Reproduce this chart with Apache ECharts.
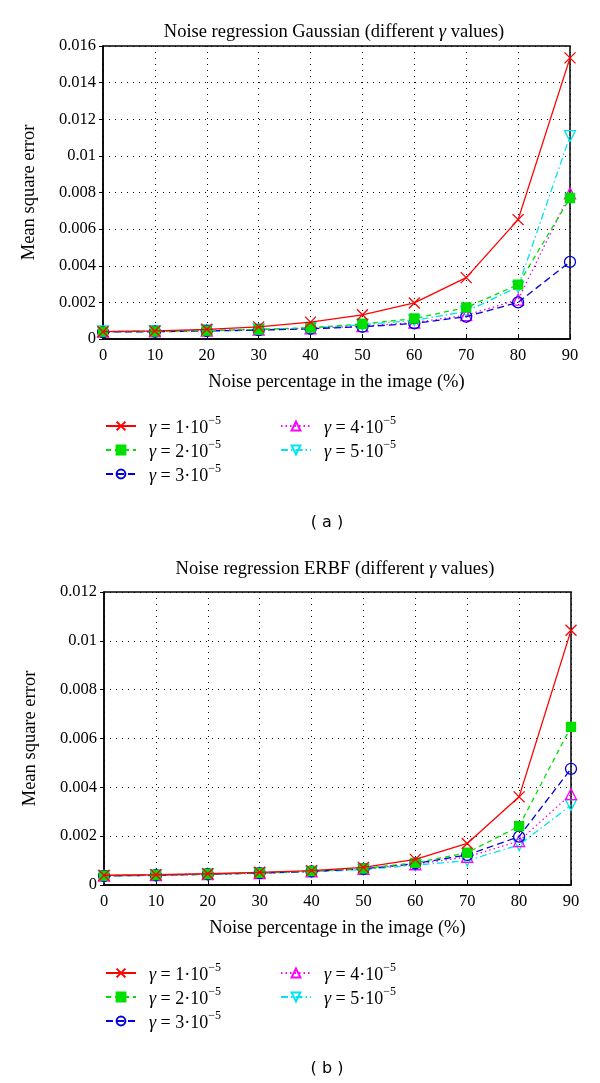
<!DOCTYPE html>
<html><head><meta charset="utf-8">
<script src="https://cdn.jsdelivr.net/npm/echarts@6/dist/echarts.min.js"></script>
<style>html,body{margin:0;padding:0;background:#fff}#c{width:600px;height:1083px}</style>
</head><body><div id="c"></div>
<script>
const noisePct = [0, 10, 20, 30, 40, 50, 60, 70, 80, 90];
const seriesNames = ['γ = 1·10−5', 'γ = 2·10−5', 'γ = 3·10−5', 'γ = 4·10−5', 'γ = 5·10−5'];
// Chart (a): Gaussian
const gaussG1 = [0.00040, 0.00044, 0.00053, 0.00066, 0.00092, 0.00132, 0.00197, 0.00335, 0.00652, 0.01535];
const gaussG2 = [0.00040, 0.00041, 0.00046, 0.00052, 0.00062, 0.00082, 0.00112, 0.00172, 0.00297, 0.00770];
const gaussG3 = [0.00038, 0.00040, 0.00044, 0.00048, 0.00056, 0.00067, 0.00085, 0.00122, 0.00200, 0.00421];
const gaussG4 = [0.00040, 0.00042, 0.00046, 0.00051, 0.00058, 0.00070, 0.00090, 0.00130, 0.00215, 0.00795];
const gaussG5 = [0.00042, 0.00043, 0.00047, 0.00052, 0.00060, 0.00078, 0.00102, 0.00150, 0.00285, 0.01108];
// Chart (b): ERBF
const erbfG1 = [0.00040, 0.00042, 0.00046, 0.00052, 0.00059, 0.00072, 0.00105, 0.00170, 0.00361, 0.01043];
const erbfG2 = [0.00038, 0.00041, 0.00045, 0.00050, 0.00057, 0.00068, 0.00091, 0.00132, 0.00241, 0.00648];
const erbfG3 = [0.00037, 0.00040, 0.00044, 0.00049, 0.00056, 0.00066, 0.00088, 0.00123, 0.00198, 0.00476];
const erbfG4 = [0.00038, 0.00041, 0.00045, 0.00049, 0.00056, 0.00066, 0.00085, 0.00115, 0.00180, 0.00372];
const erbfG5 = [0.00036, 0.00039, 0.00043, 0.00048, 0.00054, 0.00063, 0.00081, 0.00100, 0.00164, 0.00327];
const yTicksA = [0, 0.002, 0.004, 0.006, 0.008, 0.01, 0.012, 0.014, 0.016];
const yTicksB = [0, 0.002, 0.004, 0.006, 0.008, 0.01, 0.012];

const serif = '"Liberation Serif","DejaVu Serif",serif';
const styles = [
  {color: '#ff0000', type: 'solid', symbol: 'path://M0,0L10,10M10,0L0,10', size: 11, fill: 'rgba(0,0,0,0)'},
  {color: '#00e000', type: [5, 4], symbol: 'rect', size: 9, fill: '#00e000'},
  {color: '#0000dd', type: [7, 4], symbol: 'circle', size: 11, fill: 'rgba(0,0,0,0)'},
  {color: '#ff00ff', type: [1.5, 3], symbol: 'triangle', size: 11, fill: 'rgba(0,0,0,0)'},
  {color: '#00e5ee', type: [7, 3, 1.5, 3], symbol: 'path://M0,0L10,0L5,9Z', size: 11, fill: 'rgba(0,0,0,0)'}
];
const dataA = [gaussG1, gaussG2, gaussG3, gaussG4, gaussG5];
const dataB = [erbfG1, erbfG2, erbfG3, erbfG4, erbfG5];

function mkSeries(arr, idx) {
  return arr.map((vals, i) => ({
    name: seriesNames[i], type: 'line', xAxisIndex: idx, yAxisIndex: idx,
    data: noisePct.map((x, k) => [x, vals[k]]),
    symbol: styles[i].symbol, symbolSize: styles[i].size, showAllSymbol: true,
    lineStyle: {color: styles[i].color, width: 1.3, type: styles[i].type},
    itemStyle: {color: styles[i].fill, borderColor: styles[i].color, borderWidth: 1.3},
    z: 10 - i, animation: false
  }));
}

const grids = [
  {left: 103, right: 30, top: 46, height: 293, show: true, borderColor: '#000', borderWidth: 1.5},
  {left: 104, right: 29, top: 592, height: 293, show: true, borderColor: '#000', borderWidth: 1.5}
];
function xAx(i) {
  return {gridIndex: i, type: 'value', min: 0, max: 90, interval: 10,
    name: 'Noise percentage in the image (%)', nameLocation: 'middle', nameGap: 34,
    nameTextStyle: {fontFamily: serif, fontSize: 18.5, color: '#000'},
    axisLine: {lineStyle: {color: '#000', width: 1.5}}, axisTick: {inside: true, length: 4, lineStyle: {color: '#000'}},
    axisLabel: {fontFamily: serif, fontSize: 16.5, color: '#000', margin: 8},
    splitLine: {show: true, lineStyle: {color: '#000', type: [1, 5], width: 1}}};
}
function yAx(i, max, ticks) {
  return {gridIndex: i, type: 'value', min: 0, max: max, interval: 0.002,
    name: 'Mean square error', nameLocation: 'middle', nameGap: 64, nameRotate: 90,
    nameTextStyle: {fontFamily: serif, fontSize: 18.5, color: '#000'},
    axisLine: {lineStyle: {color: '#000', width: 1.5}}, axisTick: {inside: false, length: 4, lineStyle: {color: '#000'}},
    axisLabel: {fontFamily: serif, fontSize: 16.5, color: '#000', margin: 7,
      formatter: v => { const t = ticks.find(tt => Math.abs(tt - v) < 1e-9); return t === undefined ? '' : String(t); }},
    splitLine: {show: true, lineStyle: {color: '#000', type: [1, 5], width: 1}}};
}
const rich = {
  g: {fontFamily: serif, fontStyle: 'italic', fontSize: 18, color: '#000', lineHeight: 22, verticalAlign: 'bottom', padding: [0, 0, 0, 8]},
  n: {fontFamily: serif, fontSize: 18, color: '#000', lineHeight: 22, verticalAlign: 'bottom'},
  s: {fontFamily: serif, fontSize: 12, color: '#000', lineHeight: 22, verticalAlign: 'top'}
};
function legFmt(name) { const m = name.split('−'); return '{g|γ}{n|' + m[0].slice(1) + '}{s|−' + m[1] + '}'; }
function mkLegend(names, left, top) {
  return {data: names, orient: 'vertical', left: left, top: top, itemWidth: 30, itemHeight: 11, itemGap: 2,
    textStyle: {rich: rich}, formatter: legFmt, selectedMode: false};
}
const titleRich = {
  t: {fontFamily: serif, fontSize: 18.5, fontWeight: 'normal', color: '#000'},
  gi: {fontFamily: serif, fontSize: 18.5, fontWeight: 'normal', fontStyle: 'italic', color: '#000'}
};
function titleFmt(s) { const p = s.split('γ'); return '{t|' + p[0] + '}{gi|γ}{t|' + p[1] + '}'; }

const chart = echarts.init(document.getElementById('c'), null, {renderer: 'canvas'});
chart.setOption({
  animation: false,
  title: [
    {text: titleFmt('Noise regression Gaussian (different γ values)'), left: 329, top: 18, textAlign: 'center',
      textStyle: {fontWeight: 'normal', fontFamily: serif, fontSize: 18.5, rich: titleRich}},
    {text: titleFmt('Noise regression ERBF (different γ values)'), left: 330, top: 555, textAlign: 'center',
      textStyle: {fontWeight: 'normal', fontFamily: serif, fontSize: 18.5, rich: titleRich}},
    {text: '( a )', left: 322, top: 510, textAlign: 'center',
      textStyle: {fontFamily: '"DejaVu Sans",sans-serif', fontSize: 16, fontWeight: 'normal', color: '#000'}},
    {text: '( b )', left: 322, top: 1056, textAlign: 'center',
      textStyle: {fontFamily: '"DejaVu Sans",sans-serif', fontSize: 16, fontWeight: 'normal', color: '#000'}}
  ],
  grid: grids,
  xAxis: [xAx(0), xAx(1)],
  yAxis: [yAx(0, 0.016, yTicksA), yAx(1, 0.012, yTicksB)],
  legend: [
    mkLegend(seriesNames.slice(0, 3), 100, 410),
    mkLegend(seriesNames.slice(3), 275, 410),
    mkLegend(seriesNames.slice(0, 3), 100, 957),
    mkLegend(seriesNames.slice(3), 275, 957)
  ],
  series: mkSeries(dataA, 0).concat(mkSeries(dataB, 1))
});
</script></body></html>
